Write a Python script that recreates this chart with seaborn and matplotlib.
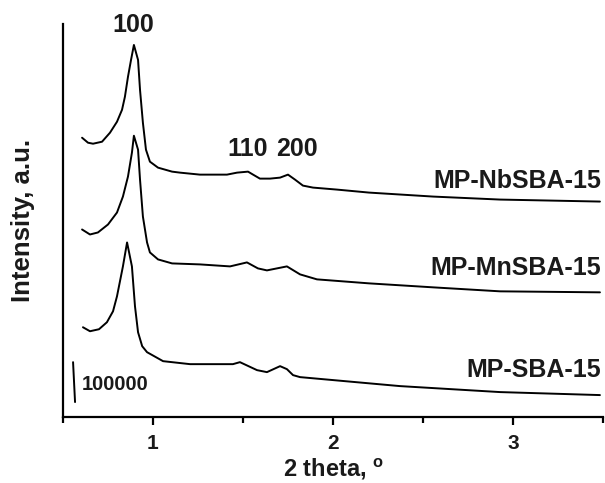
import matplotlib

matplotlib.use("Agg")

import matplotlib.pyplot as plt
import pandas as pd
import seaborn as sns
from matplotlib.ticker import FixedLocator


# =========================
# Data (counts incl. vertical offsets)
# =========================

two_theta_nb = [0.606, 0.639, 0.667, 0.717, 0.761, 0.8, 0.828, 0.844, 0.861,
                0.878, 0.894, 0.917, 0.928, 0.944, 0.961, 0.983, 1.028, 1.106,
                1.15, 1.261, 1.411, 1.467, 1.528, 1.556, 1.594, 1.65, 1.706,
                1.75, 1.789, 1.833, 1.889, 2.022, 2.2, 2.556, 2.928, 3.483]
intensity_nb = [700000, 687500, 685000, 690000, 712500, 740000, 770000, 802500,
                852500, 895000, 932500, 895000, 820000, 737500, 670000, 640000,
                625000, 615000, 612500, 607500, 607500, 612500, 615000, 607500,
                597500, 597500, 600000, 607500, 595000, 580000, 575000, 570000,
                562500, 552500, 545000, 540000]

two_theta_mn = [0.606, 0.65, 0.694, 0.75, 0.8, 0.833, 0.861, 0.883, 0.894,
                0.917, 0.928, 0.944, 0.967, 0.983, 1.028, 1.106, 1.261, 1.428,
                1.522, 1.583, 1.633, 1.744, 1.817, 1.911, 2.2, 2.556, 2.928,
                3.483]
intensity_mn = [470000, 457500, 462500, 482500, 512500, 552500, 602500, 662500,
                705000, 670000, 595000, 502500, 437500, 412500, 395000, 385000,
                382500, 377500, 387500, 372500, 367500, 377500, 357500, 345000,
                335000, 325000, 315000, 312500]

two_theta_sba = [0.611, 0.65, 0.7, 0.744, 0.778, 0.8, 0.833, 0.856, 0.883, 0.9,
                 0.917, 0.94, 0.967, 1.056, 1.206, 1.444, 1.483, 1.578, 1.633,
                 1.706, 1.744, 1.778, 1.817, 2.372, 2.928, 3.483]
intensity_sba = [225000, 215000, 220000, 237500, 265000, 302500, 377500, 437500,
                 377500, 277500, 212500, 177500, 162500, 140000, 132500, 132500,
                 137500, 117500, 112500, 127500, 120000, 105000, 100000, 77500,
                 62500, 55000]

samples = ["MP-NbSBA-15", "MP-MnSBA-15", "MP-SBA-15"]
label_levels = [592500, 372500, 117500]

reflections = ["100", "110", "200"]
reflection_x = [0.89, 1.528, 1.80]
reflection_y = [982500, 672500, 672500]

scale_counts = 100000

df = pd.concat(
    [
        pd.DataFrame({"two_theta": two_theta_nb, "intensity": intensity_nb, "sample": samples[0]}),
        pd.DataFrame({"two_theta": two_theta_mn, "intensity": intensity_mn, "sample": samples[1]}),
        pd.DataFrame({"two_theta": two_theta_sba, "intensity": intensity_sba, "sample": samples[2]}),
    ],
    ignore_index=True,
)


# =========================
# Plot
# =========================

sns.set_theme(style="ticks")
plt.rcParams["font.family"] = ["Liberation Sans", "DejaVu Sans"]
plt.rcParams["font.weight"] = "bold"
plt.rcParams["mathtext.default"] = "regular"
plt.rcParams["text.color"] = "#1a1a1a"
plt.rcParams["axes.labelcolor"] = "#1a1a1a"
plt.rcParams["xtick.labelcolor"] = "#1a1a1a"

fig = plt.figure(figsize=(6.05, 4.83), dpi=100)
ax = fig.add_axes([0.1041, 0.1366, 0.8926, 0.8137])

sns.lineplot(
    data=df,
    x="two_theta",
    y="intensity",
    units="sample",
    estimator=None,
    color="black",
    linewidth=1.4,
    ax=ax,
)

for name, level in zip(samples, label_levels):
    ax.text(3.49, level, name, ha="right", va="center", fontsize=18, fontweight="bold")

for label, x, y in zip(reflections, reflection_x, reflection_y):
    ax.text(x, y, label, ha="center", va="center", fontsize=18, fontweight="bold")

# intensity scale bar
ax.plot([0.556, 0.567], [137500, 137500 - scale_counts], color="black", linewidth=1.4)
ax.text(0.605, 82500, f"{scale_counts}", ha="left", va="center", fontsize=14.5, fontweight="bold")

ax.set_xlim(0.5, 3.5)
ax.set_ylim(0, 985000)
ax.xaxis.set_major_locator(FixedLocator([1, 2, 3]))
ax.xaxis.set_minor_locator(FixedLocator([0.5, 1.5, 2.5, 3.5]))
ax.tick_params(axis="x", which="major", length=6, width=1.6, labelsize=15, pad=6, color="black")
ax.tick_params(axis="x", which="minor", length=4, width=1.6, color="black")
ax.set_yticks([])

ax.set_xlabel(r"2 theta, $^{o}$", fontsize=17, fontweight="bold", labelpad=3)
ax.set_ylabel("Intensity, a.u.", fontsize=18.5, fontweight="bold", labelpad=20)

sns.despine(ax=ax)
for side in ["left", "bottom"]:
    ax.spines[side].set_linewidth(1.6)
    ax.spines[side].set_color("black")

fig.savefig("out.png", dpi=100)
plt.close(fig)
